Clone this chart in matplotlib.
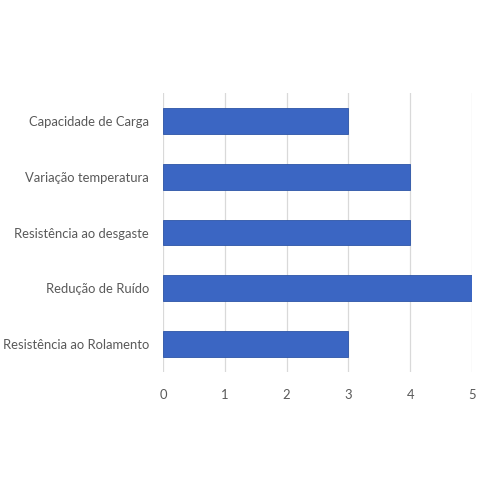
import matplotlib.pyplot as plt

categorias = ["Resistência ao Rolamento", "Redução de Ruído", "Resistência ao desgaste",
              "Variação temperatura", "Capacidade de Carga"]
valores = [3, 5, 4, 4, 3]
ticks_x = [0, 1, 2, 3, 4, 5]

plt.rcParams['font.family'] = ['Lato', 'DejaVu Sans']

fig = plt.figure(figsize=(5, 5), dpi=100)
ax = fig.add_axes([0.326, 0.256, 0.618, 0.558])

pos = list(range(len(categorias)))
ax.barh(pos, valores, height=0.46, color="#3B66C3", edgecolor="#2C54A6", linewidth=0.6, zorder=3)

ax.set_xlim(0, 5)
ax.set_ylim(-0.5, 4.5)
ax.set_xticks(ticks_x)
ax.set_yticks(pos)
ax.set_yticklabels(categorias)
ax.grid(axis="x", color="#D9D9D9", linewidth=0.9, zorder=0)
for s in ax.spines.values():
    s.set_visible(False)
ax.tick_params(length=0, labelsize=9.4, labelcolor="#595959")
ax.tick_params(axis="x", pad=12)
ax.tick_params(axis="y", pad=10)

fig.savefig("out.png", dpi=100, facecolor="white")
